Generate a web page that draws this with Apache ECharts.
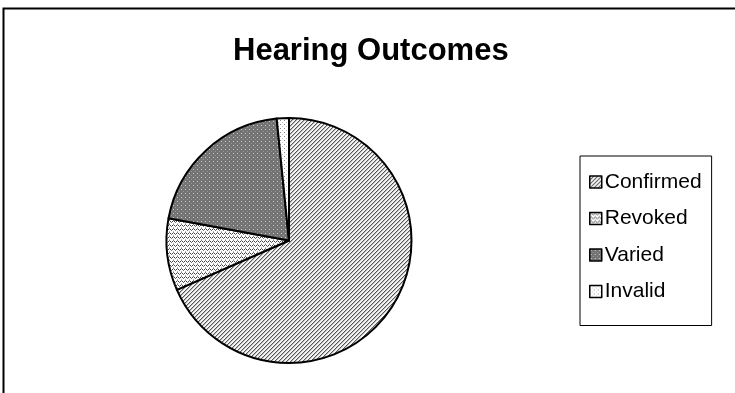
<!DOCTYPE html>
<html>
<head>
<meta charset="utf-8">
<script src="https://cdn.jsdelivr.net/npm/echarts@6/dist/echarts.min.js"></script>
<style>
html,body{margin:0;padding:0;background:#fff;}
#chart{width:735px;height:393px;}
</style>
</head>
<body>
<div id="chart"></div>
<script>
// ---- data ----
var chartTitle = 'Hearing Outcomes';
var categories = ['Confirmed', 'Revoked', 'Varied', 'Invalid'];
var values = [68.4, 9.5, 20.5, 1.6];

// ---- pattern helpers (styling only) ----
function makePattern(w, h, bg, pixels) {
  var c = document.createElement('canvas');
  c.width = w; c.height = h;
  var ctx = c.getContext('2d');
  ctx.fillStyle = bg; ctx.fillRect(0, 0, w, h);
  pixels.forEach(function (p) { ctx.fillStyle = p[2]; ctx.fillRect(p[0], p[1], 1, 1); });
  return { image: c, repeat: 'repeat' };
}
var patConfirmed = makePattern(4, 4, '#f4f4f4', [
  [3,0,'#555'],[2,1,'#555'],[1,2,'#555'],[0,3,'#555'],
  [0,0,'#bdbdbd'],[3,1,'#bdbdbd'],[2,2,'#bdbdbd'],[1,3,'#bdbdbd']
]);
var patRevoked = makePattern(8, 4, '#ffffff', [
  [0,1,'#444'],[1,0,'#777'],[2,1,'#444'],[3,2,'#777'],[4,1,'#444'],[5,0,'#777'],[6,1,'#444'],[7,2,'#777'],
  [1,3,'#bbb'],[5,3,'#bbb']
]);
var patVaried = makePattern(4, 4, '#737373', [
  [1,1,'#cfcfcf'],[3,3,'#999']
]);
var patInvalid = makePattern(4, 4, '#ffffff', [
  [0,0,'#8a8a8a'],[2,2,'#c0c0c0']
]);
var patterns = [patConfirmed, patRevoked, patVaried, patInvalid];

var pieData = categories.map(function (name, i) {
  return { name: name, value: values[i], itemStyle: { color: patterns[i] } };
});

var chart = echarts.init(document.getElementById('chart'), null, { renderer: 'canvas' });
chart.setOption({
  animation: false,
  backgroundColor: '#ffffff',
  title: {
    text: chartTitle,
    left: 228,
    top: 31,
    textStyle: { fontFamily: 'Liberation Sans, Arial, sans-serif', fontWeight: 'bold', fontSize: 31, color: '#000' }
  },
  graphic: [{
    type: 'rect',
    shape: { x: 3.5, y: 8.5, width: 800, height: 500 },
    style: { fill: 'none', stroke: '#000', lineWidth: 2 },
    silent: true, z: 0
  }],
  legend: {
    orient: 'vertical',
    left: 580,
    top: 156,
    padding: [14, 10, 22, 9],
    itemGap: 12.5,
    itemWidth: 12,
    itemHeight: 12,
    borderColor: '#000',
    borderWidth: 1,
    backgroundColor: '#fff',
    icon: 'rect',
    itemStyle: { borderColor: '#000', borderWidth: 1.5 },
    textStyle: { fontFamily: 'Liberation Sans, Arial, sans-serif', fontSize: 21, color: '#000', lineHeight: 24, padding: [0, 0, 0, -2] },
    data: categories
  },
  series: [{
    type: 'pie',
    center: [289, 240.5],
    radius: [0, 122.5],
    startAngle: 90,
    clockwise: true,
    label: { show: false },
    labelLine: { show: false },
    emphasis: { disabled: true },
    itemStyle: { borderColor: '#000', borderWidth: 2 },
    data: pieData
  }]
});
</script>
</body>
</html>
